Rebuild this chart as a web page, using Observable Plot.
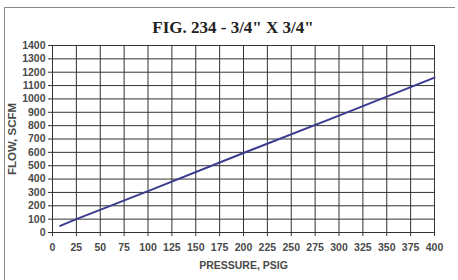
<!DOCTYPE html>
<html>
<head>
<meta charset="utf-8">
<script src="https://cdn.jsdelivr.net/npm/d3@7"></script>
<script src="https://cdn.jsdelivr.net/npm/@observablehq/plot@0.6"></script>
<style>
  html, body { margin: 0; padding: 0; background: #fff; }
  #wrap { position: relative; width: 458px; height: 280px; overflow: hidden; background: #fff; }
  #title { position: absolute; left: 0; width: 466px; top: 18px; text-align: center;
    font-family: "Liberation Serif", "Times New Roman", serif; font-weight: bold; font-size: 17px; color: #222; }
  #frameTop { position: absolute; left: 4px; top: 7px; width: 451px; height: 0; border-top: 1px solid #8a8a8a; }
  #frameLeft { position: absolute; left: 4px; top: 7px; width: 0; height: 273px; border-left: 1px solid #8a8a8a; }
  #chart { position: absolute; left: 0; top: 0; }
</style>
</head>
<body>
<div id="wrap">
  <div id="chart"></div>
  <div id="frameTop"></div>
  <div id="frameLeft"></div>
  <div id="title">FIG. 234 - 3/4" X 3/4"</div>
</div>
<script>
const title = 'FIG. 234 - 3/4" X 3/4"';
const xLabel = "PRESSURE, PSIG";
const yLabel = "FLOW, SCFM";
const pressure = [8, 25, 100, 200, 300, 400];
const flow = [50, 100, 310, 595, 875, 1160];
const xTicks = [0, 25, 50, 75, 100, 125, 150, 175, 200, 225, 250, 275, 300, 325, 350, 375, 400];
const yTicks = [0, 100, 200, 300, 400, 500, 600, 700, 800, 900, 1000, 1100, 1200, 1300, 1400];

document.getElementById("title").textContent = title;

const data = pressure.map((p, i) => ({pressure: p, flow: flow[i]}));

const chart = Plot.plot({
  width: 458,
  height: 280,
  marginLeft: 52,
  marginRight: 24,
  marginTop: 45,
  marginBottom: 48,
  style: {fontFamily: "'Liberation Sans', Arial, sans-serif", fontSize: "10.5px", fontWeight: "bold", color: "#4a4a4a", background: "transparent"},
  x: {domain: [0, 400]},
  y: {domain: [0, 1400]},
  marks: [
    Plot.gridX(xTicks, {stroke: "#333", strokeOpacity: 1, strokeWidth: 1}),
    Plot.gridY(yTicks, {stroke: "#333", strokeOpacity: 1, strokeWidth: 1}),
    Plot.frame({stroke: "#333", strokeWidth: 1}),
    Plot.axisX(xTicks, {tickSize: 4, tickPadding: 7, stroke: "#333", tickFormat: d => String(d), label: xLabel, labelAnchor: "center", labelArrow: false, labelOffset: 36, fill: "#4a4a4a"}),
    Plot.axisY(yTicks, {tickSize: 4, tickPadding: 3, stroke: "#333", tickFormat: d => String(d), label: null, fill: "#4a4a4a"}),
    Plot.text([yLabel], {frameAnchor: "left", textAnchor: "middle", dx: -40, rotate: -90, fontSize: 11.5, fontWeight: "bold", fill: "#4a4a4a", letterSpacing: 0.5}),
    Plot.line(data, {x: "pressure", y: "flow", stroke: "#3b3b8f", strokeWidth: 2})
  ]
});
document.getElementById("chart").appendChild(chart);
</script>
</body>
</html>
